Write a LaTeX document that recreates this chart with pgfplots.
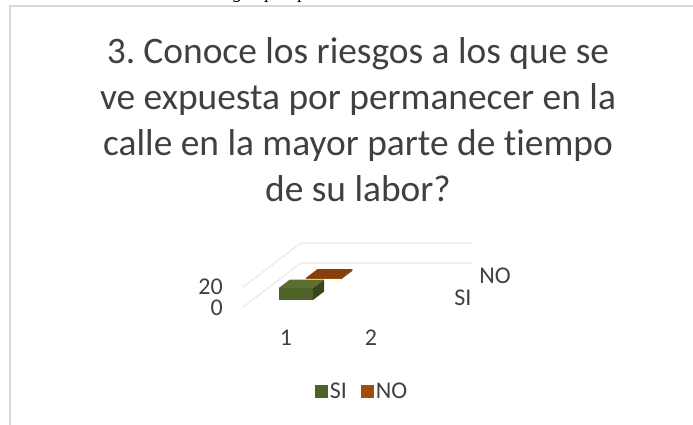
\documentclass[border=0pt]{standalone}
\usepackage{fontspec}
\setmainfont{Carlito}
\newfontfamily\serifit{Liberation Serif}
\usepackage{pgfplots}
\pgfplotsset{compat=1.18}
\definecolor{txt}{HTML}{404040}
\definecolor{gridc}{HTML}{EBEBEB}
\definecolor{framec}{HTML}{D9D9D9}
\definecolor{sifront}{HTML}{4F6228}
\definecolor{sitop}{HTML}{5A7030}
\definecolor{siside}{HTML}{38461C}
\definecolor{nofront}{HTML}{A04D08}
\definecolor{notop}{HTML}{843F0A}
\definecolor{noside}{HTML}{6A3208}
\begin{document}
\begin{tikzpicture}[x=1pt,y=1pt]
\path[use as bounding box] (0,0) rectangle (693,425);
\begin{axis}[
  at={(0pt,0pt)},anchor=south west,
  width=693pt,height=425pt,scale only axis,
  xmin=0,xmax=693,ymin=0,ymax=425,y dir=reverse,
  hide axis,clip=false,
  legend style={at={(axis cs:362,391)},anchor=center,draw=none,fill=none,
    font=\fontsize{24}{26}\selectfont\color{txt},
    /tikz/column 2/.style={column sep=12pt},
    legend cell align=left},
  legend columns=2,
  area legend,
  legend image code/.code={\path[fill,draw=none,#1] (0pt,-6.5pt) rectangle (13pt,6.5pt);}
]
\addplot[framec,line width=1.2pt,forget plot] coordinates {(10,425) (10,6) (693,6)};
\addlegendimage{fill=sifront}
\addlegendentry{SI}
\addlegendimage{fill=nofront}
\addlegendentry{NO}
\node[font=\fontsize{37.4}{46}\selectfont,text=txt,align=center,anchor=north,inner sep=0pt] at (axis cs:358,37)
  {3.\kern-3pt{} Conoce los riesgos a los que se\\ ve expuesta por permanecer en la\\ calle en la mayor parte de t\kern0pt iempo\\ de su labor?};
\node[font=\fontsize{24}{24}\selectfont,text=txt,anchor=east,inner sep=0pt] at (axis cs:223,287) {20};
\node[font=\fontsize{24}{24}\selectfont,text=txt,anchor=east,inner sep=0pt] at (axis cs:223,308) {0};
\node[font=\fontsize{24}{24}\selectfont,text=txt,inner sep=0pt] at (axis cs:286,338) {1};
\node[font=\fontsize{24}{24}\selectfont,text=txt,inner sep=0pt] at (axis cs:371,338) {2};
\node[font=\fontsize{24}{24}\selectfont,text=txt,inner sep=0pt] at (axis cs:495,276) {NO};
\node[font=\fontsize{24}{24}\selectfont,text=txt,inner sep=0pt] at (axis cs:463,298) {SI};
\node[font=\serifit\itshape\fontsize{19}{19}\selectfont,anchor=base,inner sep=0pt] at (axis cs:238,-1) {g};
\node[font=\serifit\itshape\fontsize{19}{19}\selectfont,anchor=base,inner sep=0pt] at (axis cs:270,-1) {p};
\node[font=\serifit\itshape\fontsize{19}{19}\selectfont,anchor=base,inner sep=0pt] at (axis cs:303,-1) {p};
\end{axis}
\begin{axis}[
  at={(243pt,118pt)},anchor=origin,
  x={(85.5pt,0pt)},y={(29pt,22pt)},z={(0pt,1pt)},
  xmin=0,xmax=2,ymin=0,ymax=2,zmin=0,zmax=20,
  hide axis,clip=false
]
% gridlines
\addplot3[gridc,line width=1.3pt] coordinates {(0,0,0) (0,2,0) (2,2,0)};
\addplot3[gridc,line width=1.3pt] coordinates {(0,0,20) (0,2,20) (2,2,20)};
% NO, category 1
\addplot3[fill=noside,draw=none] coordinates {(0.72,1.25,0) (0.72,1.65,0) (0.72,1.65,1.5) (0.72,1.25,1.5)} --cycle;
\addplot3[fill=nofront,draw=none] coordinates {(0.31,1.25,0) (0.72,1.25,0) (0.72,1.25,1.5) (0.31,1.25,1.5)} --cycle;
\addplot3[fill=notop,draw=none] coordinates {(0.31,1.25,1.5) (0.72,1.25,1.5) (0.72,1.65,1.5) (0.31,1.65,1.5)} --cycle;
% SI, category 1
\addplot3[fill=siside,draw=none] coordinates {(0.71,0.32,0) (0.71,0.70,0) (0.71,0.70,12) (0.71,0.32,12)} --cycle;
\addplot3[fill=sifront,draw=none] coordinates {(0.31,0.32,0) (0.71,0.32,0) (0.71,0.32,12) (0.31,0.32,12)} --cycle;
\addplot3[fill=sitop,draw=none] coordinates {(0.31,0.32,12) (0.71,0.32,12) (0.71,0.70,12) (0.31,0.70,12)} --cycle;
\end{axis}
\end{tikzpicture}
\end{document}
